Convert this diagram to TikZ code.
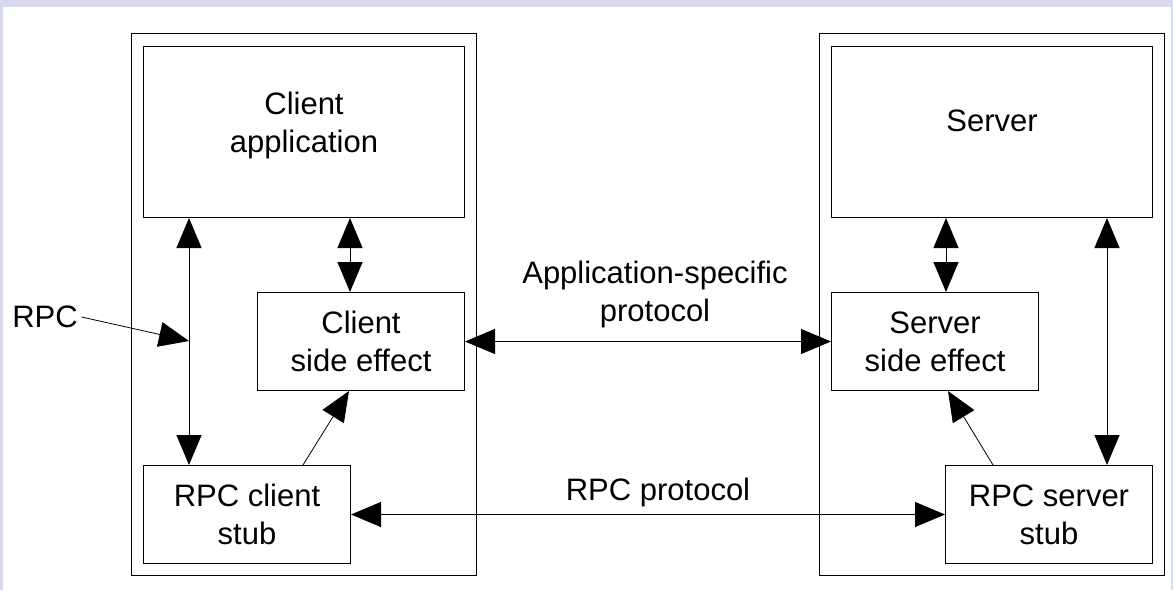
\documentclass[tikz,border=0pt]{standalone}
\usepackage{fontspec}
\setmainfont{Liberation Sans}
\usetikzlibrary{arrows.meta}
\definecolor{bgband}{RGB}{216,216,238}
\begin{document}
\begin{tikzpicture}[x=1pt,y=-1pt,line width=1pt,
  txt/.style={align=center,font=\fontsize{31}{38}\selectfont},
  box/.style={draw,rectangle,inner sep=0pt,anchor=north west,txt},
  tip/.style={-{Triangle[length=30pt,width=25pt]}},
  dtip/.style={{Triangle[length=30pt,width=25pt]}-{Triangle[length=30pt,width=25pt]}},
  thinline/.style={line width=0.8pt}]
\useasboundingbox (0,0) rectangle (1173,590);
\fill[white] (0,0) rectangle (1173,590);
\fill[bgband] (0,0) rectangle (1173,7);
\fill[bgband] (0,0) rectangle (3,590);
\fill[bgband] (1171,0) rectangle (1173,590);
% client side
\node[box,minimum width=345,minimum height=542] (cout) at (131,33) {};
\node[box,minimum width=321,minimum height=171,
  label={[txt,yshift=7pt]center:Client\\application}] (app) at (143,46) {};
\node[box,minimum width=207,minimum height=98] (cse) at (257,292) {Client\\side effect};
\node[box,minimum width=207,minimum height=98] (cstub) at (143,465) {RPC client\\stub};
% server side
\node[box,minimum width=345,minimum height=542] (sout) at (819,33) {};
\node[box,minimum width=321,minimum height=171,
  label={[txt,yshift=11pt]center:Server}] (srv) at (831,46) {};
\node[box,minimum width=207,minimum height=98] (sse) at (831,292) {Server\\side effect};
\node[box,minimum width=207,minimum height=98] (sstub) at (945,465) {RPC server\\stub};
% labels
\node[txt] (rpc) at (45,317) {RPC};
\node[txt] (apl) at (655,294) {Application-specific\\protocol};
\node[txt] (rpcp) at (658,492) {RPC protocol};
% helper coordinates
\coordinate (lx) at (189,0);
\coordinate (mx) at (350,0);
\coordinate (smx) at (946,0);
\coordinate (rx) at (1107,0);
\coordinate (cd1) at (303,0);
\coordinate (cd2) at (349,0);
\coordinate (sd1) at (993,0);
\coordinate (sd2) at (948,0);
\coordinate (rj) at (189,341);
% connectors
\draw[dtip] (app.south -| lx) -- (cstub.north -| lx);
\draw[dtip] (app.south -| mx) -- (cse.north -| mx);
\draw[dtip] (srv.south -| smx) -- (sse.north -| smx);
\draw[dtip] (srv.south -| rx) -- (sstub.north -| rx);
\draw[dtip] (cse.east) -- (sse.west);
\draw[dtip] (cstub.east) -- (sstub.west);
\draw[tip,thinline] (cstub.north -| cd1) -- (cse.south -| cd2);
\draw[tip,thinline] (sstub.north -| sd1) -- (sse.south -| sd2);
\draw[tip,thinline] (rpc.east) -- (rj);
\end{tikzpicture}
\end{document}
